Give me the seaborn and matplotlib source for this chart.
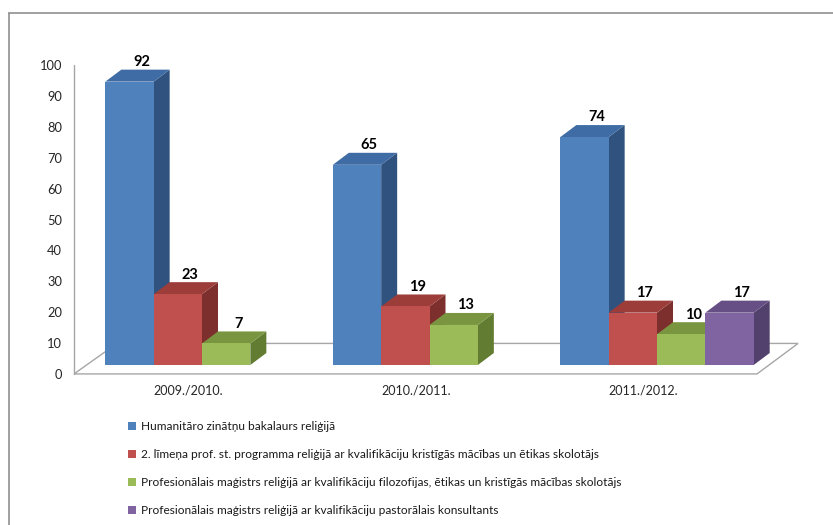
import numpy as np
import pandas as pd
import matplotlib
matplotlib.use("Agg")
import matplotlib.pyplot as plt
from matplotlib.patches import Polygon, Patch
from matplotlib.lines import Line2D
import seaborn as sns

# ---- data ----
categories = ["2009./2010.", "2010./2011.", "2011./2012."]
programs = [
    "Humanitāro zinātņu bakalaurs reliģijā",
    "2. līmeņa prof. st. programma reliģijā ar kvalifikāciju kristīgās mācības un ētikas skolotājs",
    "Profesionālais maģistrs reliģijā ar kvalifikāciju filozofijas, ētikas un kristīgās mācības skolotājs",
    "Profesionālais maģistrs reliģijā ar kvalifikāciju pastorālais konsultants",
]
bakalaurs = [92, 65, 74]
limenis2 = [23, 19, 17]
magistrs_filoz = [7, 13, 10]
magistrs_past = [np.nan, np.nan, 17]
y_ticks = [0, 10, 20, 30, 40, 50, 60, 70, 80, 90, 100]

front_colors = ["#4F81BD", "#C0504D", "#9BBB59", "#8064A2"]
top_colors = ["#3F6CA4", "#9C3D3A", "#7A9540", "#664F84"]
side_colors = ["#30527F", "#7D2F2D", "#627C32", "#53416D"]

series = [bakalaurs, limenis2, magistrs_filoz, magistrs_past]
rows = []
for p, vals in zip(programs, series):
    for c, v in zip(categories, vals):
        rows.append({"year": c, "program": p, "value": v})
df = pd.DataFrame(rows)

sns.set_theme(style="white")
plt.rcParams["font.family"] = ["Lato", "DejaVu Sans"]

W, H = 833, 525
fig = plt.figure(figsize=(W / 100, H / 100), dpi=100)
fig.patch.set_facecolor("white")

# axes placed in pixel terms
ax_l, ax_r, ax_t, ax_b = 74, 810, 20, 378
ax = fig.add_axes([ax_l / W, 1 - ax_b / H, (ax_r - ax_l) / W, (ax_b - ax_t) / H])
ax.set_facecolor("none")

sns.barplot(data=df, x="year", y="value", hue="program", hue_order=programs,
            order=categories, palette=front_colors, width=0.85, dodge=True,
            saturation=1, legend=False, ax=ax, edgecolor="none", linewidth=0)

px_x = 227.5   # pixels per category unit
px_y = 3.08    # pixels per value unit
ax.set_xlim(-128 / px_x, (ax_r - 202) / px_x)
ax.set_ylim(-(ax_b - 365) / px_y, (365 - ax_t) / px_y)

dx = 16 / px_x
dy = 12 / px_y

# floor and axis line
y_front = -2.9
y_back = 7.0
floor = Polygon([(-0.5626, y_front), (2.4396, y_front), (2.62, y_back), (-0.374, y_back)],
                closed=True, facecolor="white", edgecolor="#A6A6A6", lw=1.0,
                zorder=0.5, clip_on=False)
ax.add_patch(floor)
ax.plot([-0.5626, -0.5626], [y_front, 97.4], color="#A6A6A6", lw=1.0, zorder=0.6,
        clip_on=False)

# 3D faces for each bar
n_cat = len(categories)
bars = list(ax.patches)
bars = [b for b in bars if isinstance(b, matplotlib.patches.Rectangle) and b is not floor]
for b in bars:
    h = b.get_height()
    if h is None or np.isnan(h) or h == 0:
        continue
    x = b.get_x()
    w = b.get_width()
    fc = matplotlib.colors.to_hex(b.get_facecolor())
    k = [c.lower() for c in front_colors].index(fc.lower())
    z = 2 + k * 0.1
    b.set_zorder(z + 0.05)
    top = Polygon([(x, h), (x + w, h), (x + w + dx, h + dy), (x + dx, h + dy)],
                  closed=True, facecolor=top_colors[k], edgecolor="none", zorder=z)
    side = Polygon([(x + w, 0), (x + w + dx, dy), (x + w + dx, h + dy), (x + w, h)],
                   closed=True, facecolor=side_colors[k], edgecolor="none", zorder=z)
    ax.add_patch(side)
    ax.add_patch(top)
    ax.text(x + w / 2 + 12 / px_x, h + dy + 0.2, f"{int(h)}", ha="center", va="bottom",
            fontsize=10.5, fontweight="bold", color="black", zorder=10)

# ticks
ax.set_xticks([i - 0.06 for i in range(n_cat)])
ax.set_xticklabels(categories, fontsize=9, color="#262626")
ax.set_yticks([v * 1.003 - 2.92 for v in y_ticks])
ax.set_yticklabels([str(v) for v in y_ticks], fontsize=9.3, color="#262626")
ax.tick_params(axis="both", length=0)
ax.tick_params(axis="x", pad=4.5)
ax.tick_params(axis="y", pad=8.5)
ax.set_xlabel("")
ax.set_ylabel("")
for s in ax.spines.values():
    s.set_visible(False)

# legend
handles = [Patch(facecolor=c, edgecolor="none") for c in front_colors]
fig.legend(handles, programs, loc="upper left", bbox_to_anchor=(128 / W, 1 - 421 / H),
           frameon=False, fontsize=8.6, handlelength=0.7, handleheight=0.7,
           handletextpad=0.35, labelspacing=1.42, borderpad=0, borderaxespad=0,
           labelcolor="#1A1A1A")

# outer frame (partly outside the image)
fc_line = "#909090"
fig.add_artist(Line2D([8.5 / W, 8.5 / W], [0, 1 - 12.5 / H], color=fc_line, lw=1.2))
fig.add_artist(Line2D([8.5 / W, 1], [1 - 12.5 / H, 1 - 12.5 / H], color=fc_line, lw=1.2))

fig.savefig("out.png", dpi=100)
